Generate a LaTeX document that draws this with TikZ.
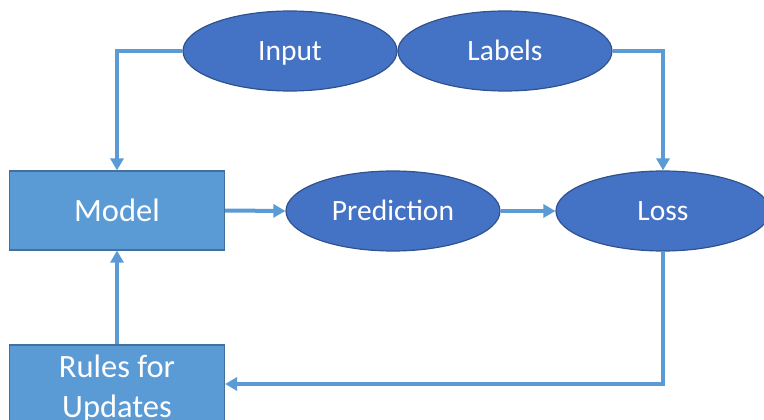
\documentclass[tikz,border=0pt]{standalone}
\usepackage{fontspec}
\setmainfont{Carlito}
\usetikzlibrary{shapes.geometric,arrows.meta}
\definecolor{ellfill}{HTML}{4472C4}
\definecolor{elldraw}{HTML}{2F528F}
\definecolor{boxfill}{HTML}{5B9BD5}
\definecolor{boxdraw}{HTML}{41719C}
\definecolor{arrowc}{HTML}{5B9BD5}
\tikzset{
  ell/.style={ellipse, fill=ellfill, draw=elldraw, line width=1.2pt, minimum width=214pt, minimum height=80pt, inner sep=0pt, text=white, text height=19pt, text depth=0pt, font=\fontsize{29.5}{36}\selectfont},
  boxnode/.style={rectangle, fill=boxfill, draw=boxdraw, line width=1.2pt, minimum width=215pt, minimum height=79pt, inner sep=0pt, text=white, align=center, font=\fontsize{32.5}{40}\selectfont},
  conn/.style={draw=arrowc, line width=4pt, -{Triangle[width=13pt,length=12pt]}}
}
\begin{document}
\begin{tikzpicture}[x=1pt,y=-1pt]
\useasboundingbox (0,0) rectangle (764,420);
\node[ell] (input) at (290,51) {Input};
\node[ell] (labels) at (505,51) {Labels};
\node[boxnode] (model) at (117,210.5) {Model};
\node[ell] (pred) at (393,211) {Prediction};
\node[ell] (loss) at (663,211) {Loss};
\node[boxnode, minimum height=87pt] (rules) at (117,388.5) {Rules for\\Updates};
\draw[conn] (input.west) -| (model.north);
\draw[conn] (labels.east) -| (loss.north);
\draw[conn] (model.east) -- (pred.west);
\draw[conn] (pred.east) -- (loss.west);
\draw[conn] (rules.north) -- (model.south);
\draw[conn] (loss.south) |- ([yshift=4.5pt]rules.east);
\end{tikzpicture}
\end{document}
